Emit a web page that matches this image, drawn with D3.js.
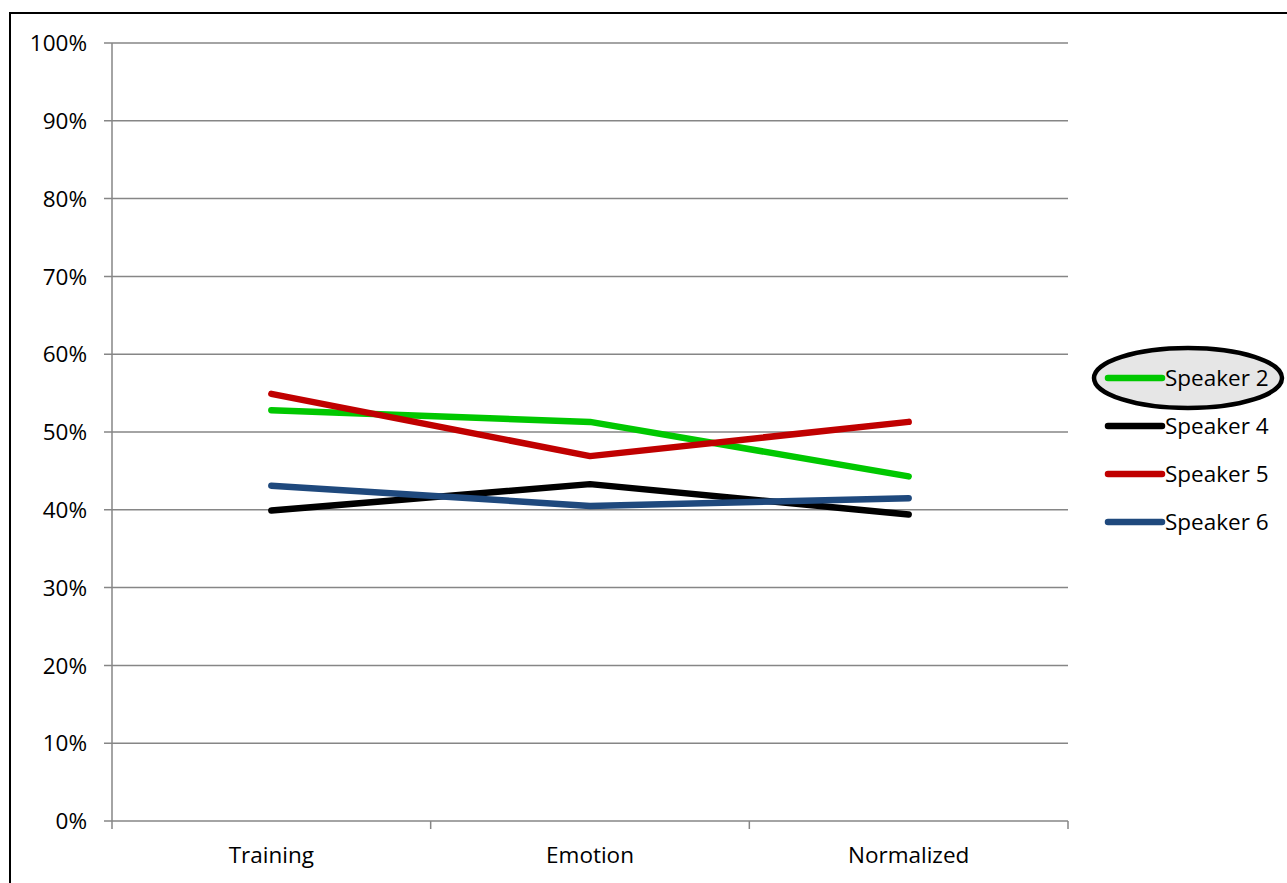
<!DOCTYPE html>
<html>
<head>
<meta charset="utf-8">
<script src="https://cdn.jsdelivr.net/npm/d3@7"></script>
<style>
  html, body { margin: 0; padding: 0; background: #fff; }
  svg { display: block; }
  text { font-family: "Open Sans", sans-serif; fill: #000; }
</style>
</head>
<body>
<svg id="chart" width="1287" height="883"></svg>
<script>
const categories = ["Training", "Emotion", "Normalized"];
const speaker2 = [0.528, 0.513, 0.443];
const speaker4 = [0.399, 0.433, 0.394];
const speaker5 = [0.549, 0.469, 0.513];
const speaker6 = [0.431, 0.405, 0.415];
const seriesNames = ["Speaker 2", "Speaker 4", "Speaker 5", "Speaker 6"];
const seriesColors = ["#00c800", "#000000", "#c00000", "#1f497d"];
const yTicks = [0, 0.1, 0.2, 0.3, 0.4, 0.5, 0.6, 0.7, 0.8, 0.9, 1.0];

const series = [speaker2, speaker4, speaker5, speaker6].map((values, i) => ({
  name: seriesNames[i], color: seriesColors[i], values
}));

const svg = d3.select("#chart");
const plot = { left: 112, right: 1068, top: 43, bottom: 821 };
const fontSize = 22.5;

// chart frame
svg.append("rect")
  .attr("x", 10).attr("y", 13).attr("width", 1300).attr("height", 900)
  .attr("fill", "#fff").attr("stroke", "#000").attr("stroke-width", 2);

const x = d3.scaleBand().domain(categories).range([plot.left, plot.right]);
const y = d3.scaleLinear().domain([0, 1]).range([plot.bottom, plot.top]);

// horizontal gridlines
svg.append("g").selectAll("line").data(yTicks).join("line")
  .attr("x1", plot.left - 8).attr("x2", plot.right)
  .attr("y1", d => y(d)).attr("y2", d => y(d))
  .attr("stroke", "#868686").attr("stroke-width", 1.5);

// y axis labels
svg.append("g").selectAll("text").data(yTicks).join("text")
  .attr("x", 87).attr("y", d => y(d))
  .attr("dy", "0.36em").attr("text-anchor", "end")
  .attr("font-size", fontSize)
  .text(d => d3.format(".0%")(d));

// y axis line
svg.append("line")
  .attr("x1", plot.left).attr("x2", plot.left)
  .attr("y1", plot.top).attr("y2", plot.bottom + 8)
  .attr("stroke", "#868686").attr("stroke-width", 1.5);

// category boundary ticks
const boundaries = categories.map(c => x(c)).concat([plot.right]);
svg.append("g").selectAll("line").data(boundaries.slice(1)).join("line")
  .attr("x1", d => d).attr("x2", d => d)
  .attr("y1", plot.bottom).attr("y2", plot.bottom + 8)
  .attr("stroke", "#868686").attr("stroke-width", 1.5);

// x labels
svg.append("g").selectAll("text").data(categories).join("text")
  .attr("x", d => x(d) + x.bandwidth() / 2).attr("y", 855)
  .attr("dy", "0.36em").attr("text-anchor", "middle")
  .attr("font-size", fontSize)
  .text(d => d);

// series lines
const line = d3.line()
  .x((d, i) => x(categories[i]) + x.bandwidth() / 2)
  .y(d => y(d));

svg.append("g").selectAll("path").data(series).join("path")
  .attr("d", d => line(d.values))
  .attr("fill", "none")
  .attr("stroke", d => d.color)
  .attr("stroke-width", 6.5)
  .attr("stroke-linecap", "round")
  .attr("stroke-linejoin", "round");

// legend
const legend = svg.append("g");
legend.append("ellipse")
  .attr("cx", 1188).attr("cy", 378).attr("rx", 94).attr("ry", 30)
  .attr("fill", "#e6e6e6").attr("stroke", "#000").attr("stroke-width", 4.5);

const items = legend.selectAll("g.item").data(series).join("g")
  .attr("class", "item")
  .attr("transform", (d, i) => `translate(0, ${378 + i * 48})`);
items.append("line")
  .attr("x1", 1108).attr("x2", 1162)
  .attr("stroke", d => d.color).attr("stroke-width", 6.5)
  .attr("stroke-linecap", "round");
items.append("text")
  .attr("x", 1165).attr("dy", "0.36em")
  .attr("font-size", fontSize)
  .text(d => d.name);
</script>
</body>
</html>
